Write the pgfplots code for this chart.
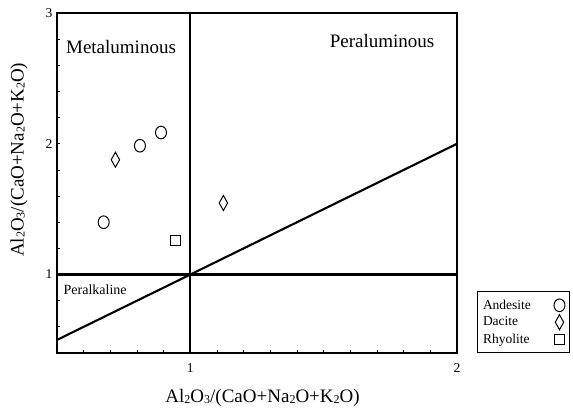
\documentclass[border=0pt]{standalone}
\usepackage{pgfplots}
\pgfplotsset{compat=1.18}
\usepackage{fontspec}
\setmainfont{Liberation Serif}

% small lowered digits for the oxide formulae
\newcommand\sub[1]{\raisebox{-1pt}{\fontsize{12}{12}\selectfont #1}}
\newcommand\ratio{Al\sub{2}O\sub{3}/(CaO+Na\sub{2}O+K\sub{2}O)}

\begin{document}
\begin{tikzpicture}
\useasboundingbox (-57pt,-61pt) rectangle (516pt,353pt);
\begin{axis}[
  scale only axis, width=400pt, height=340pt,
  xmin=0.5, xmax=2, ymin=0.4, ymax=3,
  xtick={1,2}, ytick={1,2,3},
  minor xtick={0.6,0.7,0.8,0.9,1.1,1.2,1.3,1.4,1.5,1.6,1.7,1.8,1.9},
  minor ytick={0.6,0.8,1.2,1.4,1.6,1.8,2.2,2.4,2.6,2.8},
  tick align=inside, xtick pos=bottom, ytick pos=left,
  major tick length=3pt, minor tick length=3pt,
  tick style={black, line width=0.8pt},
  axis line style={line width=1.8pt},
  /pgf/number format/assume math mode=true,
  tick label style={font=\fontsize{13.5}{15}\selectfont},
  xticklabel style={yshift=-7pt},
  yticklabel style={xshift=-1pt},
  xlabel={\ratio},
  ylabel={\ratio},
  label style={font=\fontsize{19}{22}\selectfont},
  xlabel style={at={(axis description cs:0.514,-0.132)}, anchor=center},
  ylabel style={at={(axis description cs:-0.095,0.568)}, anchor=center},
  legend style={at={(axis description cs:1.049,0)}, anchor=south west,
    draw=black, line width=0.8pt, font=\fontsize{13.5}{15}\selectfont,
    inner xsep=4pt, inner ysep=6pt, row sep=2pt, column sep=21pt},
  legend plot pos=right,
  legend cell align=left,
]
% field boundaries
\addplot[black, line width=2.1pt, forget plot] coordinates {(0.5,0.5) (2,2)};
\addplot[black, line width=2.1pt, forget plot] coordinates {(1,0.4) (1,3)};
\addplot[black, line width=2.1pt, forget plot] coordinates {(0.5,1) (2,1)};

% samples
\addplot[only marks, mark=o, mark size=5.5pt, mark options={black, line width=1pt, yscale=1.15}]
  coordinates {(0.675,1.40) (0.811,1.985) (0.890,2.086)};
\addlegendentry{Andesite}
\addplot[only marks, mark=diamond, mark size=7.5pt, mark options={black, line width=1pt, xscale=0.75}]
  coordinates {(0.719,1.878) (1.124,1.547)};
\addlegendentry{Dacite}
\addplot[only marks, mark=square, mark size=5pt, mark options={black, line width=1pt}]
  coordinates {(0.946,1.262)};
\addlegendentry{Rhyolite}

\node[font=\fontsize{19}{22}\selectfont] at (axis cs:0.74,2.74) {Metaluminous};
\node[font=\fontsize{19}{22}\selectfont] at (axis cs:1.719,2.789) {Peraluminous};
\node[font=\fontsize{14}{16}\selectfont] at (axis cs:0.643,0.885) {Peralkaline};
\end{axis}
\end{tikzpicture}
\end{document}
